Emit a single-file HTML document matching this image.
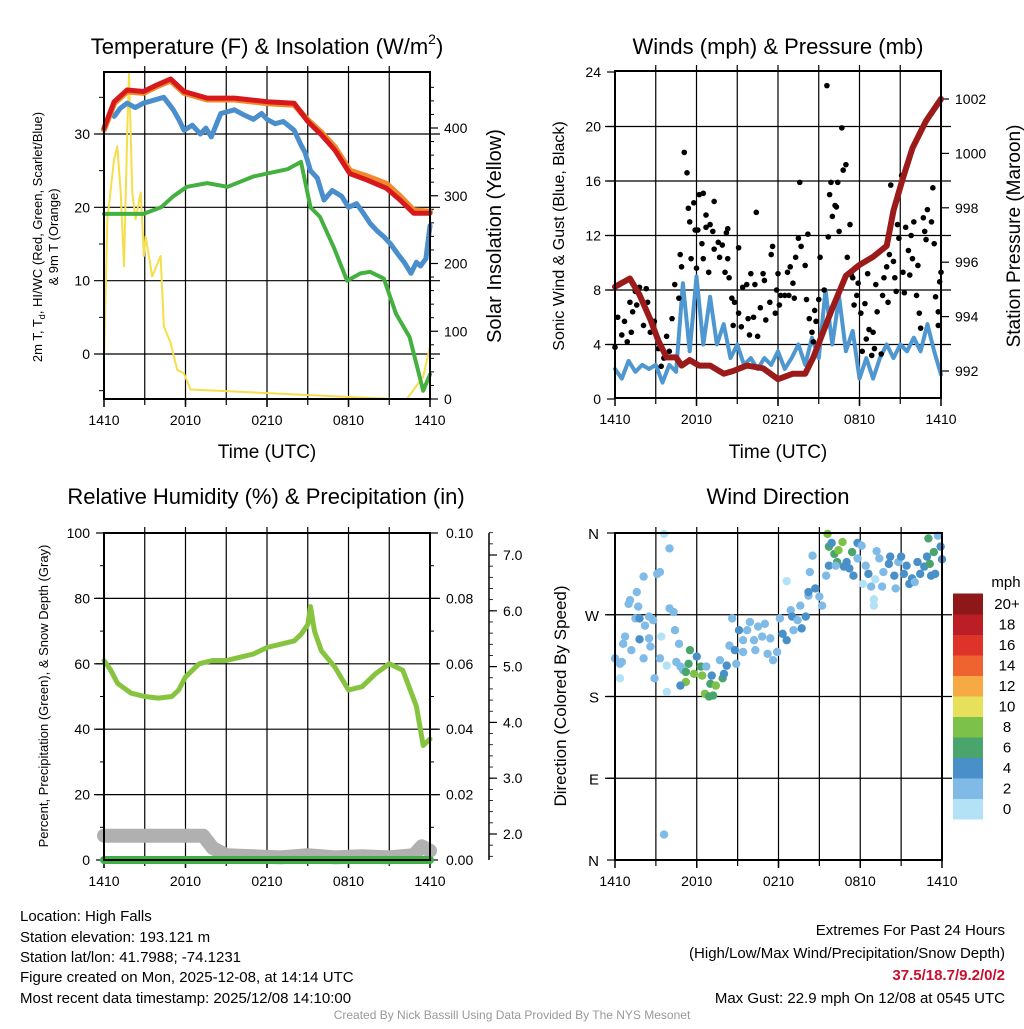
<!DOCTYPE html>
<html><head><meta charset="utf-8">
<style>
html,body{margin:0;padding:0;background:#fff;}
svg text{font-family:"Liberation Sans",Arial,sans-serif;}
</style></head>
<body>
<svg id="chart" xmlns="http://www.w3.org/2000/svg" width="1024" height="1024" viewBox="0 0 1024 1024">
<rect x="0" y="0" width="1024" height="1024" fill="#fff"/>
<g id="g1"></g>
<g id="g2"></g>
<g id="g3"></g>
<g id="g4"></g>
<text x="267" y="54" font-size="22" text-anchor="middle">Temperature (F) &amp; Insolation (W/m<tspan font-size="14" dy="-10">2</tspan><tspan dy="10">)</tspan></text>
<text transform="translate(42,237) rotate(-90)" font-size="13" text-anchor="middle">2m T, T<tspan font-size="9" dy="3">d</tspan><tspan dy="-3">, HI/WC (Red, Green, Scarlet/Blue)</tspan></text>
<g font-size="15" fill="#000">
<text x="20" y="921">Location: High Falls</text>
<text x="20" y="942">Station elevation: 193.121 m</text>
<text x="20" y="962">Station lat/lon: 41.7988; -74.1231</text>
<text x="20" y="982">Figure created on Mon, 2025-12-08, at 14:14 UTC</text>
<text x="20" y="1003">Most recent data timestamp: 2025/12/08 14:10:00</text>
</g>
<g font-size="15" text-anchor="end">
<text x="1005" y="935">Extremes For Past 24 Hours</text>
<text x="1005" y="958">(High/Low/Max Wind/Precipitation/Snow Depth)</text>
<text x="1005" y="980" fill="#c8102e" font-weight="bold">37.5/18.7/9.2/0/2</text>
<text x="1005" y="1003">Max Gust: 22.9 mph On 12/08 at 0545 UTC</text>
</g>
<text x="512" y="1019" font-size="12" fill="#999" text-anchor="middle">Created By Nick Bassill Using Data Provided By The NYS Mesonet</text>
</svg>
<script>
// ---------- Panel 1 data ----------
const tempT = [0,0.75,1.7,2.9,3.9,4.9,5.9,7.6,9.6,12,14,15,16,17,18.1,19.4,20.8,21.8,22.8,24];
const tempV = [30.8,34.4,36,35.8,36.7,37.5,35.8,34.9,34.9,34.4,34.2,31.7,29.9,27.8,24.6,23.7,22.6,21,19.2,19.2];
const orangeV = [30.6,34.2,35.8,35.6,36.5,37.3,35.6,34.7,34.7,34.2,34.0,31.9,30.2,28.2,25.0,24.2,23.2,21.5,19.6,19.4];
const hiT = [0.75,1.2,1.7,2.3,2.9,4.4,5.1,5.5,5.9,6.5,7.1,7.5,7.9,8.6,9.6,10.3,11,11.6,12,12.6,13.2,14,14.5,14.8,15.2,15.7,16.2,16.8,17.5,18,18.6,19.1,19.6,20.1,20.6,21.1,21.6,22.1,22.6,23,23.3,23.7,24];
const hiV = [32.4,33.5,34.2,33.6,34.2,35,33.3,32,30.5,31.2,30,30.8,29.6,32.8,33.3,32.6,32,32.8,32,31.4,31.7,30.5,28.5,27.5,25,24,21,22.3,21.5,20,20.5,19.2,17.8,16.8,16,15,13.7,12.5,11,12.5,12,13,17.5];
const tdT = [0,2.9,4.2,5.1,6.1,7.6,9.1,11,13.5,14.5,15.2,15.9,16.9,17.9,18.9,19.6,20.6,21.5,22.5,23.5,24];
const tdV = [19.1,19.1,20,21.5,22.8,23.3,22.8,24.2,25.2,26.2,20,18.7,14.6,10,11,11.2,10.3,5.5,2.3,-5,-2.8];
const solT = [0,0.25,0.74,0.98,1.23,1.47,1.72,1.84,2.08,2.33,2.7,2.94,3.06,3.55,4.17,4.41,4.9,5.39,5.88,6.37,21.3,22.3,23.5,24];
const solV = [58,265,354,373,305,196,403,482,305,265,305,211,240,181,211,107,83,43,38,14,0,0,33,78];
// ---------- Panel 2 data ----------
const presT = [0,1.1,1.8,2.6,3.2,3.8,4.5,4.9,5.5,6.2,7,8,8.7,9.7,10.9,12,13.1,14,14.6,15.3,16,17,18,19,20,20.5,21.2,21.9,22.9,24];
const presV = [995.1,995.4,994.8,993.9,993.1,992.5,992.5,992.2,992.4,992.2,992.2,991.9,992,992.2,992.1,991.7,991.9,991.9,992.5,993.4,994.3,995.5,995.9,996.2,996.6,997.9,999.1,1000.2,1001.2,1002];
const sonicV = [2.2,1.5,2.8,2,2.5,2.2,2.5,1.2,2.5,2,8.5,3.5,9,4,7.5,4,5.5,3,4,2.5,3,2.2,3,2.5,3.5,2.2,3,4,2.5,4.5,3,8,4,7.5,3.5,5,1.5,3,1.5,3,4,3,4,3.5,4.5,3.5,5.5,3.5,1.8];
const gustT = [0,0.2,0.5,0.7,0.9,1.1,1.2,1.3,1.5,1.6,1.8,2.1,2.3,2.4,2.6,2.9,3.2,3.4,3.6,3.8,4.0,4.2,4.4,4.7,4.8,4.9,5.1,5.3,5.4,5.5,5.6,5.8,5.9,6.0,6.1,6.2,6.4,6.5,6.5,6.7,6.7,6.9,7.0,7.2,7.3,7.3,7.6,7.7,7.9,8.1,8.2,8.3,8.3,8.4,8.6,8.7,8.8,9.1,9.1,9.3,9.4,9.7,9.8,9.9,10,10.2,10.3,10.4,10.5,10.7,10.9,11,11.1,11.4,11.5,11.6,11.8,11.9,12,12.1,12.2,12.5,12.7,12.8,12.9,13.1,13.2,13.3,13.5,13.6,13.7,14,14.1,14.2,14.3,14.5,14.6,14.7,14.8,15,15.1,15.4,15.6,15.7,15.8,15.9,16,16.2,16.3,16.4,16.5,16.7,16.8,17,17.1,17.3,17.4,17.5,17.6,17.8,17.9,18.1,18.2,18.4,18.5,18.6,18.7,18.9,19,19.1,19.2,19.3,19.6,19.7,19.8,20,20.1,20.2,20.3,20.5,20.6,20.7,20.8,20.9,21.1,21.2,21.3,21.4,21.6,21.7,21.8,21.9,22,22.2,22.3,22.4,22.5,22.7,22.8,22.9,23,23.3,23.4,23.5,23.6,23.8,23.8,23.9,24];
const gustV = [3.8,6,4.7,5.7,4.2,7.1,4.9,6.4,7.9,6.9,8.2,5.4,8.1,7.1,4.9,5.7,3.7,2.4,3,4.6,3.5,5.9,8.4,7.4,10.6,9.7,18.1,16.6,14,13,10.3,14.4,12.4,9.6,12.4,15,11.4,10.3,15.1,12.6,13.5,9.3,12.8,12.3,14.5,11,11.5,10.4,11.3,9.3,12.2,12.5,10.3,8.9,7.4,5.4,7.1,6.3,11.1,5.3,8.2,8.4,5.9,4.7,9.2,6,8.4,13.7,4.6,6.7,9.2,8.7,5.8,7.1,10.6,11.2,6.3,8,9.2,6.9,7.6,7.6,9.3,7.6,9.7,8.5,7.4,10.4,11.8,15.9,11.2,9.8,7.3,12.1,5.9,4.9,4.2,6.5,5.7,7.3,10.4,8,23,11.9,15,15.9,13.4,14.2,14.1,15.9,12.3,19.9,16.8,17.2,10.4,12.8,9.1,8.9,6.9,7.6,8.5,6.3,3.5,7,4.4,9.2,5.1,3.2,4.9,3.7,8.4,6.4,3.3,7.6,8.9,9.7,7.1,10.6,15.7,10.1,8.9,7.9,12.8,11.8,16.4,9.3,7.8,12.6,10.9,9.1,12,10.3,13,7.6,9.8,6.3,5.2,13.3,12.3,11.7,13.9,13,15.5,11.4,7.5,6.4,5.4,8.6,9.3];
// ---------- Panel 3 data ----------
const rhT = [0,0.5,1,2,3,4,5,5.5,6,7,8,9,10,11,12,13,14,14.5,15,15.2,15.5,16,17,18,19,20,21,22,23,23.5,24];
const rhV = [61,58,54,51,50,49.5,50,52,56,60,61,61,62,63,65,66,67,69,72,77.5,70,64,59,52,53,57,60,58,47,35,37];
const snowT = [0,7.3,8,9,11,13,15,17,19,21,22.8,23.4,24];
const snowV = [1.97,1.97,1.75,1.62,1.6,1.58,1.62,1.58,1.6,1.58,1.62,1.78,1.7];
const precipT = [0,24];
const precipV = [0,0];
// ---------- Panel 4 data ----------
const dirT = [0,0.37,0.5,0.37,0.74,0.6,1.2,1.1,1.0,1.6,2.1,1.7,1.5,1.8,2.2,2.5,2.8,2.6,2.5,1.8,2.1,2.9,3.1,3.3,3.6,3.4,3.3,3.8,3.8,4.0,4.0,4.3,4.4,4.5,4.7,4.8,5.0,5.5,5.4,5.2,5.2,4.8,5.8,6.0,6.3,6.4,6.7,7.1,7.0,6.6,6.9,7.4,7.2,7.7,7.9,8.0,8.2,8.4,8.6,8.8,8.9,9.1,9.4,9.4,9.7,9.9,10.2,10.3,10.5,10.8,11.0,11.2,11.4,11.6,11.9,12.1,12.3,12.6,12.6,12.9,13.0,13.1,13.4,13.6,13.7,14.0,14.2,14.3,14.5,14.2,14.7,15.0,15.2,15.5,15.6,15.7,15.9,16.1,16.3,16.4,16.7,15.7,16.2,16.8,17.0,17.2,17.4,17.5,17.8,18.1,17.8,18.2,18.4,18.6,18.8,19.0,19.0,19.1,19.2,19.4,19.6,19.7,20.1,20.2,20.5,20.6,20.8,21.0,21.2,21.4,21.6,21.8,22.0,22.2,22.4,22.7,22.9,23.0,23.2,23.1,23.4,23.5,23.7,23.9,24,3.6];
const dirV = [222,216,218,200,246,238,231,286,282,295,312,279,266,266,258,268,264,235,244,243,222,200,315,317,359,246,222,214,185,343,277,273,253,218,238,213,209,231,216,207,196,192,205,224,213,203,213,203,194,183,180,192,181,220,200,205,214,236,266,231,216,253,242,229,253,262,242,231,257,246,260,227,244,220,229,266,249,242,307,275,268,253,264,280,255,268,291,317,335,295,299,290,280,313,359,345,349,337,328,341,350,324,324,323,328,321,339,313,349,346,332,304,324,315,301,287,280,309,340,332,301,317,326,334,313,299,328,334,315,324,304,310,306,328,315,323,334,354,313,326,339,315,357,345,331,28];
const dirS = [3,3,3,1,3,3,3,3,3,3,3,3,3,5,3,3,3,3,3,5,3,3,3,3,1,1,3,1,1,3,3,3,3,3,3,3,3,7,7,7,9,5,9,5,7,9,3,5,7,9,7,9,7,3,7,5,5,3,3,5,3,5,3,3,3,3,3,3,3,3,3,3,3,3,3,3,5,5,1,3,5,3,3,3,5,5,3,3,3,5,5,3,3,3,9,7,5,7,7,9,9,5,3,5,5,5,7,5,5,3,3,1,3,5,3,1,1,1,3,3,3,3,5,5,5,3,3,5,5,5,5,5,3,5,5,5,5,7,5,7,7,5,3,5,5,3];
const cbLabels = ["0","2","4","6","8","10","12","14","16","18","20+"];
const cbColors = ["#b3e2f7","#7fbbe6","#4a90c8","#4aa56c","#7cc14a","#e6e05a","#f7a944","#ee6330","#dd3328","#bb1e25","#8e1719"];
const timeLabels = ["1410","2010","0210","0810","1410"];
const tempTicks = [0,10,20,30];
const solTicks = [0,100,200,300,400];
const windTicks = [0,4,8,12,16,20,24];
const presTicks = [992,994,996,998,1000,1002];
const rhTicks = [0,20,40,60,80,100];
const precipTicks = ["0.00","0.02","0.04","0.06","0.08","0.10"];
const snowTicks = [2,3,4,5,6,7];
const dirLabels = ["N","E","S","W","N"];

const NS = "http://www.w3.org/2000/svg";
function mk(parent, tag, attrs){const e=document.createElementNS(NS,tag);for(const k in attrs)e.setAttribute(k,attrs[k]);parent.appendChild(e);return e;}
function scale(d0,d1,r0,r1){return v=>r0+(v-d0)/(d1-d0)*(r1-r0);}
function txt(p,x,y,s,size,anchor,name){const t=mk(p,'text',{x:x,y:y,'font-size':size,'text-anchor':anchor||'middle'});t.textContent=s;


return t;}
function poly(p,xs,ys,fx,fy,color,w,name){const pts=xs.map((t,i)=>fx(t).toFixed(1)+','+fy(ys[i]).toFixed(1)).join(' ');
const e=mk(p,'polyline',{points:pts,fill:'none',stroke:color,'stroke-width':w,'stroke-linejoin':'round','stroke-linecap':'round'});


return e;}
function frame(p,L,R,T,B){
  const xf=scale(0,24,L,R);
  for(let h=3;h<24;h+=3){const x=xf(h);const l=mk(p,'line',{x1:x,x2:x,y1:T-6,y2:B+6,stroke:'#000','stroke-width':1.2});
    
    }
  timeLabels.forEach((s,i)=>{txt(p,xf(i*6),B+26,s,14,'middle','x-tick-label');
    mk(p,'line',{x1:xf(i*6),x2:xf(i*6),y1:B,y2:B+8,stroke:'#000','stroke-width':1.5});});
  return xf;
}
function box(p,L,R,T,B){const r=mk(p,'rect',{x:L,y:T,width:R-L,height:B-T,fill:'none',stroke:'#000','stroke-width':2});

}
function hgrid(p,L,R,y){const l=mk(p,'line',{x1:L-10,x2:R+10,y1:y,y2:y,stroke:'#000','stroke-width':1.2});

}

// ===== Panel 1 =====
(function(){
  const p=document.getElementById('g1');const L=104,R=430,T=72,B=399;
  const xf=frame(p,L,R,T,B);
  const yf=scale(0,30,354,134);const sf=scale(0,400,399,128);
  tempTicks.forEach(v=>{hgrid(p,L,R,yf(v));txt(p,L-14,yf(v)+5,String(v),14,'end','left-tick-label');});
  [-5,5,15,25,35].forEach(v=>mk(p,'line',{x1:L-5,x2:L,y1:yf(v),y2:yf(v),stroke:'#000'}));
  solTicks.forEach(v=>{mk(p,'line',{x1:R,x2:R+8,y1:sf(v),y2:sf(v),stroke:'#000','stroke-width':1.2});txt(p,R+14,sf(v)+5,String(v),14,'start','right-tick-label');});
  for(let v=20;v<480;v+=20){if(v%100)mk(p,'line',{x1:R,x2:R+4,y1:sf(v),y2:sf(v),stroke:'#000'});}
  poly(p,solT,solV,xf,sf,'#f5de4a',2,'insolation-line');
  poly(p,tdT,tdV,xf,yf,'#44b03f',4,'dewpoint-line');
  poly(p,hiT,hiV,xf,yf,'#4a8ecb',5,'heat-index-line');
  poly(p,tempT,orangeV,xf,yf,'#f08a2c',6,'temp-9m-line');
  poly(p,tempT,tempV,xf,yf,'#d7191c',5,'temp-2m-line');
  box(p,L,R,T,B);
  txt(p,267,458,'Time (UTC)',19,'middle','x-axis-title');
  const b=txt(p,0,0,'& 9m T (Orange)',13,'middle','left-axis-title-line2');b.setAttribute('transform','translate(58,237) rotate(-90)');
  const c=txt(p,0,0,'Solar Insolation (Yellow)',20,'middle','right-axis-title');c.setAttribute('transform','translate(501,236) rotate(-90)');
})();

// ===== Panel 2 =====
(function(){
  const p=document.getElementById('g2');const L=615,R=941,T=71,B=398;
  const xf=frame(p,L,R,T,B);
  const yf=scale(0,24,399,72);const pf=scale(992,1002,371,99);
  windTicks.forEach(v=>{if(v>0&&v<24)hgrid(p,L,R,yf(v));mk(p,'line',{x1:L-8,x2:L,y1:yf(v),y2:yf(v),stroke:'#000','stroke-width':1.2});txt(p,L-14,yf(v)+5,String(v),14,'end','left-tick-label');});
  presTicks.forEach(v=>{mk(p,'line',{x1:R,x2:R+8,y1:pf(v),y2:pf(v),stroke:'#000','stroke-width':1.2});txt(p,R+14,pf(v)+5,String(v),14,'start','right-tick-label');});
  const sT=sonicV.map((v,i)=>i*0.5);
  poly(p,sT,sonicV,xf,yf,'#4f97d0',4,'sonic-wind-line');
  gustT.forEach((t,i)=>{const c=mk(p,'circle',{cx:xf(t),cy:yf(gustV[i]),r:2.8,fill:'#000'});
    
    });
  poly(p,presT,presV,xf,pf,'#9b1b1b',6,'pressure-line');
  box(p,L,R,T,B);
  txt(p,778,54,'Winds (mph) & Pressure (mb)',22,'middle','panel-title');
  txt(p,778,458,'Time (UTC)',19,'middle','x-axis-title');
  const a=txt(p,0,0,'Sonic Wind & Gust (Blue, Black)',16,'middle','left-axis-title');a.setAttribute('transform','translate(564,236) rotate(-90)');
  const c=txt(p,0,0,'Station Pressure (Maroon)',19,'middle','right-axis-title');c.setAttribute('transform','translate(1020,236) rotate(-90)');
})();

// ===== Panel 3 =====
(function(){
  const p=document.getElementById('g3');const L=104,R=430,T=533,B=860;
  const xf=frame(p,L,R,T,B);
  const yf=scale(0,100,860,533);const sf=scale(2,7,834,555);
  rhTicks.forEach((v,i)=>{if(v>0&&v<100)hgrid(p,L,R,yf(v));mk(p,'line',{x1:L-8,x2:L,y1:yf(v),y2:yf(v),stroke:'#000','stroke-width':1.2});txt(p,L-14,yf(v)+5,String(v),14,'end','left-tick-label');
    mk(p,'line',{x1:R,x2:R+8,y1:yf(v),y2:yf(v),stroke:'#000','stroke-width':1.2});txt(p,R+16,yf(v)+5,precipTicks[i],14,'start','precip-tick-label');});
  for(let v=10;v<100;v+=20){mk(p,'line',{x1:R,x2:R+4,y1:yf(v),y2:yf(v),stroke:'#000'});mk(p,'line',{x1:L-4,x2:L,y1:yf(v),y2:yf(v),stroke:'#000'});}
  const ax=mk(p,'line',{x1:489,x2:489,y1:533,y2:860,stroke:'#000','stroke-width':1.5});
  
  
  snowTicks.forEach(v=>{mk(p,'line',{x1:489,x2:497,y1:sf(v),y2:sf(v),stroke:'#000','stroke-width':1.2});txt(p,503,sf(v)+5,v.toFixed(1),14,'start','snow-tick-label');});
  for(let v=1.6;v<7.6;v+=0.2){mk(p,'line',{x1:489,x2:493,y1:sf(v),y2:sf(v),stroke:'#000','stroke-width':0.8});}
  poly(p,snowT,snowV,xf,sf,'#b0b0b0',14,'snow-depth-line');
  const pf=scale(0,0.1,860,533);
  poly(p,precipT,precipV,xf,pf,'#3cb043',8,'precip-line');
  poly(p,precipT,precipV,xf,pf,'#1f6e22',1.5,'precip-line-core');
  poly(p,rhT,rhV,xf,yf,'#86c440',5,'humidity-line');
  box(p,L,R,T,B);
  txt(p,266,504,'Relative Humidity (%) & Precipitation (in)',22,'middle','panel-title');
  const a=txt(p,0,0,'Percent, Precipitation (Green), & Snow Depth (Gray)',13,'middle','left-axis-title');a.setAttribute('transform','translate(48,696) rotate(-90)');
})();

// ===== Panel 4 =====
(function(){
  const p=document.getElementById('g4');const L=615,R=942,T=533,B=860;
  const xf=frame(p,L,R,T,B);
  const yf=scale(0,360,860,533);
  dirLabels.forEach((s,i)=>{const y=yf(i*90);if(i>0&&i<4)hgrid(p,L,R,y);mk(p,'line',{x1:L-8,x2:L,y1:y,y2:y,stroke:'#000','stroke-width':1.2});txt(p,L-16,y+6,s,15,'end','direction-tick-label');});
  dirT.forEach((t,i)=>{const ci=Math.min(10,Math.floor(dirS[i]/2));
    const c=mk(p,'circle',{cx:xf(t),cy:yf(dirV[i]),r:4.2,fill:cbColors[ci]});
    
    });
  box(p,L,R,T,B);
  txt(p,778,504,'Wind Direction',22,'middle','panel-title');
  const a=txt(p,0,0,'Direction (Colored By Speed)',17,'middle','left-axis-title');a.setAttribute('transform','translate(566,696) rotate(-90)');
  txt(p,1006,587,'mph',15,'middle','colorbar-title');
  const cb=mk(p,'g',{});
  
  
  const h=20.5;
  cbColors.forEach((col,i)=>{const y=819-(i+1)*h;const r=mk(cb,'rect',{x:953,y:y,width:30,height:h+0.5,fill:col});
    
    
    txt(cb,1007,y+h/2+5,cbLabels[i],15,'middle','colorbar-label');});
})();
</script>
</body></html>
